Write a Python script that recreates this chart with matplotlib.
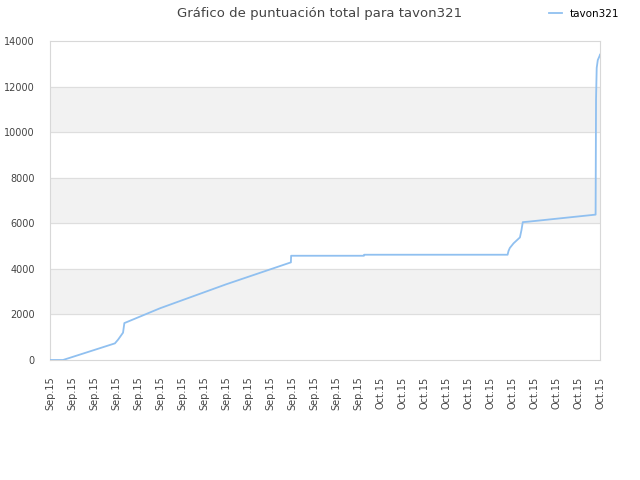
import numpy as np
from matplotlib import pyplot as plt

plt.close('all')

# data (x in tick units, 0 = first tick)
player = 'tavon321'
x = np.array([0, 0.59, 2.95, 3.1, 3.32, 3.38, 5.0, 8.0, 10.95, 10.96, 14.27, 14.28,
              20.80, 20.84, 20.9, 21.07, 21.36, 21.43, 21.49, 21.73, 24.80, 24.82,
              24.85, 24.90, 24.98, 25.0])
score = np.array([0, 0, 730, 900, 1200, 1620, 2270, 3320, 4285, 4575, 4575, 4620,
                  4620, 4780, 4915, 5120, 5380, 5700, 6050, 6070, 6380, 11455,
                  12820, 13165, 13340, 13400])
tick_labels = ['Sep.15'] * 15 + ['Oct.15'] * 11

font_tick = {'size': 7, 'color': '#444444'}

fig = plt.figure(figsize=(6.4, 4.8), dpi=100)
ax = fig.add_axes([50 / 640, 120 / 480, 550 / 640, 319 / 480])

# alternating bands
for lo in range(2000, 14000, 4000):
    ax.axhspan(lo, lo + 2000, color='#f2f2f2', zorder=0)
for g in range(2000, 14000, 2000):
    ax.axhline(g, color='#dedede', lw=0.8, zorder=1)

ax.plot(x, score, color='#90c0f0', lw=1.3, label=player, zorder=3)

ax.set_xlim(0, 25)
ax.set_ylim(0, 14000)
ax.set_xticks(np.arange(len(tick_labels)))
ax.set_xticklabels(tick_labels, rotation=90, fontdict=font_tick)
ax.set_yticks(np.arange(0, 14001, 2000))
ax.set_yticklabels([str(v) for v in range(0, 14001, 2000)], fontdict=font_tick)
ax.tick_params(axis='both', length=0)
ax.tick_params(axis='x', pad=12)
ax.tick_params(axis='y', pad=11)
for s in ax.spines.values():
    s.set_color('#d8d8d8')

fig.text(0.5, 1 - 13 / 480, 'Gráfico de puntuación total para ' + player,
         ha='center', va='center', fontsize=9.5, color='#444444')
fig.legend(loc='center left', bbox_to_anchor=(545 / 640, 1 - 14 / 480), frameon=False,
           handlelength=1.2, handletextpad=0.8, fontsize=7.5, borderaxespad=0)

fig.savefig('out.png')
